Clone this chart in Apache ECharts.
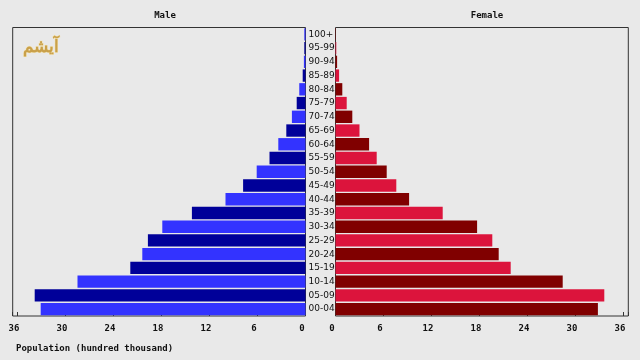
<!DOCTYPE html>
<html>
<head>
<meta charset="utf-8">
<script src="https://cdn.jsdelivr.net/npm/echarts@6/dist/echarts.min.js"></script>
<style>
html,body{margin:0;padding:0;background:#e9e9e9;}
#c{width:640px;height:360px;}
</style>
</head>
<body>
<div id="c"></div>
<script>
const ageGroups = ['00-04','05-09','10-14','15-19','20-24','25-29','30-34','35-39','40-44','45-49','50-54','55-59','60-64','65-69','70-74','75-79','80-84','85-89','90-94','95-99','100+'];
const maleValues = [33.1, 33.85, 28.5, 21.9, 20.4, 19.7, 17.9, 14.2, 10.0, 7.8, 6.1, 4.5, 3.4, 2.4, 1.7, 1.1, 0.78, 0.35, 0.2, 0.15, 0.15];
const femaleValues = [32.8, 33.6, 28.4, 21.9, 20.4, 19.6, 17.7, 13.4, 9.2, 7.6, 6.4, 5.15, 4.2, 3.0, 2.1, 1.4, 0.85, 0.45, 0.2, 0.1, 0.05];
const xTickLabels = [0, 6, 12, 18, 24, 30, 36];
const maleColors = ['#3333ff', '#000099'];
const femaleColors = ['#800000', '#dc143c'];

const chart = echarts.init(document.getElementById('c'), null, {renderer: 'canvas'});
const mono = 'DejaVu Sans Mono';
const xMax = 36.6;
function tickFmt(v) {
  return xTickLabels.indexOf(Math.round(v * 100) / 100) >= 0 ? String(v) : '';
}
const xAxisCommon = {
  type: 'value', min: 0, max: xMax, interval: 6,
  splitLine: {show: false},
  axisLine: {show: false},
  axisTick: {show: true, inside: true, length: 4, lineStyle: {color: '#333'}},
  axisLabel: {formatter: tickFmt, fontFamily: mono, fontWeight: 'bold', fontSize: 9, color: '#111', margin: 8, padding: [0, 7, 0, 0], showMaxLabel: true}
};
const option = {
  backgroundColor: '#e9e9e9',
  animation: false,
  title: [
    {text: 'Male', left: 160, top: 6, textAlign: 'center', textStyle: {fontFamily: mono, fontWeight: 'bold', fontSize: 9, color: '#111'}},
    {text: 'Female', left: 482, top: 6, textAlign: 'center', textStyle: {fontFamily: mono, fontWeight: 'bold', fontSize: 9, color: '#111'}},
    {text: 'Population (hundred thousand)', left: 11, top: 339, textStyle: {fontFamily: mono, fontWeight: 'bold', fontSize: 9, color: '#111'}}
  ],
  graphic: [
    {type: 'text', left: 22, top: 38, style: {text: 'آیشم', fill: '#c9a04a', font: 'bold 17px "Noto Sans"', stroke: '#f3e2b0', lineWidth: 1}}
  ],
  grid: [
    {left: 12.7, top: 27.5, width: 292.8, height: 288.5, show: true, borderColor: '#333', borderWidth: 1, backgroundColor: 'transparent'},
    {left: 335.5, top: 27.5, width: 292.8, height: 288.5, show: true, borderColor: '#333', borderWidth: 1, backgroundColor: 'transparent'}
  ],
  xAxis: [
    Object.assign({gridIndex: 0, inverse: true}, xAxisCommon),
    Object.assign({gridIndex: 1}, xAxisCommon)
  ],
  yAxis: [
    {gridIndex: 0, type: 'category', data: ageGroups, position: 'right',
     axisLine: {show: false}, axisTick: {show: false}, splitLine: {show: false},
     axisLabel: {align: 'left', margin: 3, fontSize: 9, fontFamily: 'DejaVu Sans', color: '#111', interval: 0}},
    {gridIndex: 1, type: 'category', data: ageGroups,
     axisLine: {show: false}, axisTick: {show: false}, splitLine: {show: false}, axisLabel: {show: false}}
  ],
  series: [
    {type: 'bar', xAxisIndex: 0, yAxisIndex: 0, barCategoryGap: '10%',
     data: maleValues.map((v, i) => ({value: v, itemStyle: {color: maleColors[i % 2]}}))},
    {type: 'bar', xAxisIndex: 1, yAxisIndex: 1, barCategoryGap: '10%',
     data: femaleValues.map((v, i) => ({value: v, itemStyle: {color: femaleColors[i % 2]}}))}
  ]
};
chart.setOption(option);
</script>
</body>
</html>
